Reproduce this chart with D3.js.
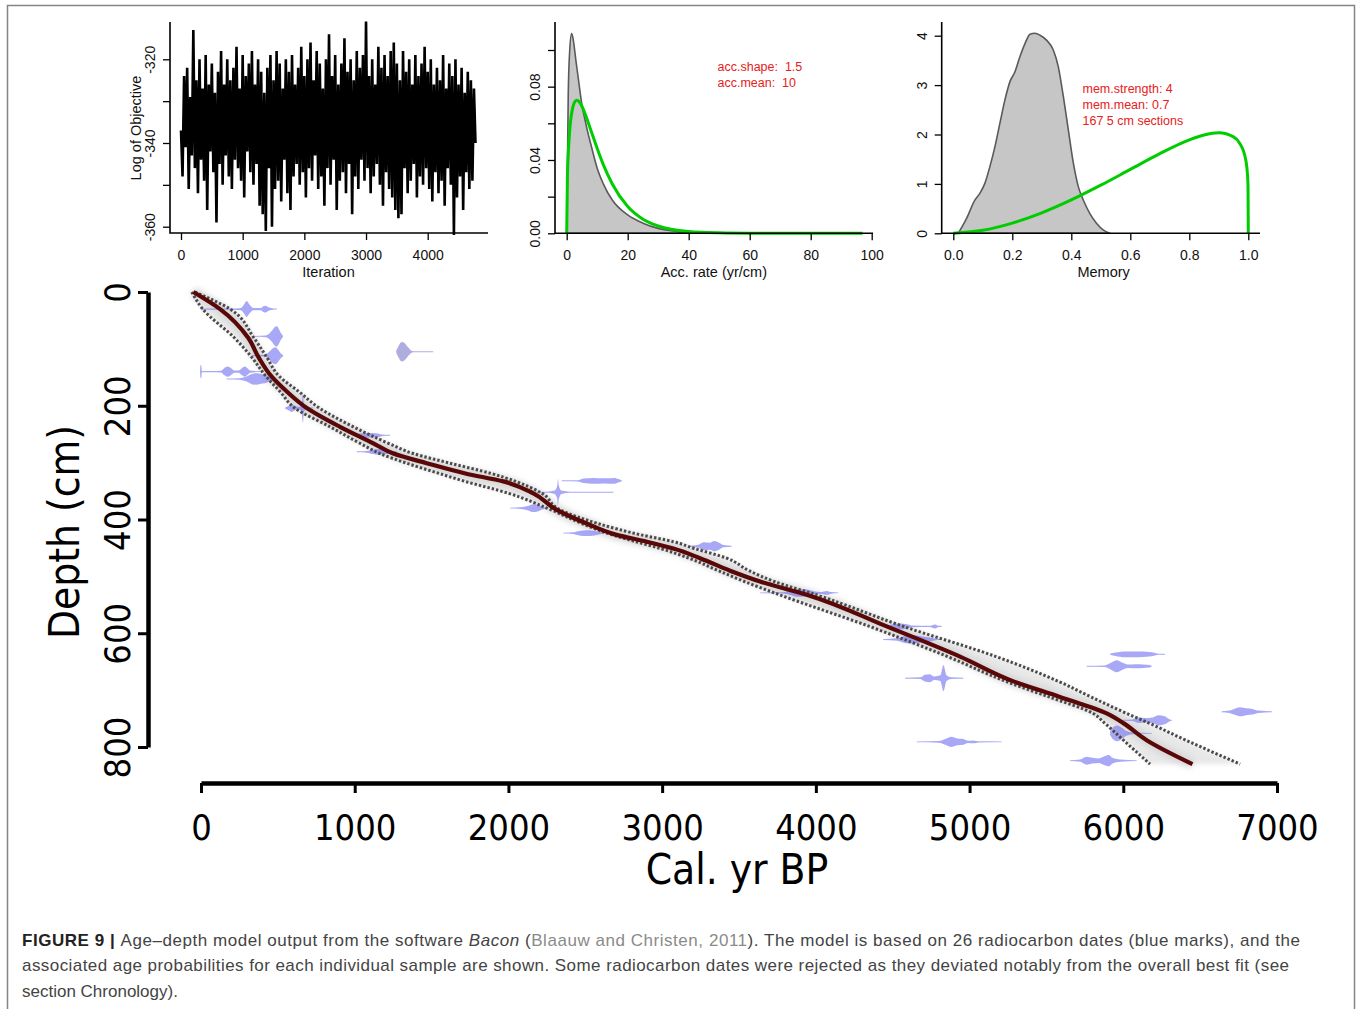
<!DOCTYPE html>
<html>
<head>
<meta charset="utf-8">
<script src="https://cdn.jsdelivr.net/npm/d3@7"></script>
<style>
  body { margin: 0; background: #fff; }
  svg { display: block; }
</style>
</head>
<body>
<svg id="fig" width="1358" height="1009"></svg>
<script>
// ---- datos ----

// traza MCMC (log del objetivo), una muestra cada 25 iteraciones
const traceStep = 25;
const traceValues = [
  -337,-348,-324,-341,-322,-351,-329,-343,-313,-346,-325,-352,-320,-344,-327,-349,-319,-356,-326,-342,
  -321,-347,-328,-359,-323,-345,-318,-350,-326,-343,-320,-348,-325,-351,-322,-344,-317,-346,-327,-349,
  -319,-353,-324,-342,-321,-347,-318,-350,-326,-345,-320,-355,-323,-357,-328,-361,-322,-346,-319,-360,
  -325,-351,-318,-349,-321,-354,-327,-344,-320,-352,-323,-356,-319,-348,-326,-345,-322,-350,-317,-347,
  -324,-353,-320,-346,-316,-349,-325,-343,-318,-351,-321,-348,-327,-355,-320,-346,-314,-350,-324,-344,
  -319,-356,-326,-349,-321,-347,-315,-352,-323,-345,-320,-357,-325,-348,-318,-351,-322,-344,-319,-349,
  -311,-346,-324,-352,-320,-348,-326,-345,-317,-350,-322,-355,-319,-347,-324,-351,-318,-353,-316,-356,
  -321,-358,-325,-357,-318,-346,-323,-352,-320,-349,-326,-345,-319,-353,-324,-348,-321,-350,-317,-346,
  -323,-351,-320,-354,-326,-347,-322,-352,-325,-349,-319,-355,-327,-346,-321,-350,-324,-362,-320,-353,
  -326,-348,-322,-356,-328,-347,-323,-351,-325,-349,-327,-340
];

// tasa de acumulacion: posterior (gris) y prior (verde)
const accRate = [0, 0.5, 1, 1.6, 2, 3, 4, 5, 6, 7, 8, 10, 12, 15, 20, 25, 30, 40, 50, 54];
const accPosterior = [0, 0.075, 0.1, 0.109, 0.107, 0.0945, 0.082, 0.070, 0.062, 0.0545, 0.048, 0.0355, 0.027, 0.018, 0.010, 0.0055, 0.0027, 0.0006, 0.0001, 0];
const accPriorX = [0, 0.25, 0.5, 1, 2, 3, 3.33, 4, 5, 6, 8, 10, 12, 15, 20, 25, 30, 40, 50, 60, 80, 97];
const accPrior = [0, 0.0316, 0.043, 0.0564, 0.0687, 0.0724, 0.0726, 0.072, 0.0693, 0.0653, 0.0558, 0.0463, 0.0375, 0.0268, 0.0146, 0.0077, 0.004, 0.001, 0.00026, 0.00006, 0, 0];

// memoria: posterior (gris) y prior (verde)
const memX = [0.017, 0.045, 0.073, 0.09, 0.107, 0.124, 0.141, 0.158, 0.175, 0.192, 0.209, 0.226, 0.243, 0.26, 0.277, 0.294, 0.316, 0.339, 0.356, 0.373, 0.39, 0.407, 0.424, 0.441, 0.463, 0.486, 0.508, 0.531];
const memPosterior = [0, 0.30, 0.67, 0.81, 1.01, 1.35, 1.75, 2.23, 2.70, 3.07, 3.27, 3.58, 3.84, 4.03, 4.05, 4.01, 3.91, 3.71, 3.37, 2.77, 2.09, 1.42, 0.94, 0.67, 0.40, 0.20, 0.07, 0];
const memPriorX = [0, 0.1, 0.2, 0.3, 0.4, 0.5, 0.6, 0.7, 0.8, 0.85, 0.9, 0.95, 0.97, 0.99, 0.995, 0.999, 1];
const memPrior = [0, 0.06, 0.206, 0.415, 0.676, 0.974, 1.293, 1.612, 1.89, 1.99, 2.034, 1.952, 1.83, 1.523, 1.339, 0.977, 0];

const accText = ["acc.shape:  1.5", "acc.mean:  10"];
const memText = ["mem.strength: 4", "mem.mean: 0.7", "167 5 cm sections"];

// modelo edad-profundidad
const modelDepth = [0, 30, 81, 114, 149, 175, 204, 237, 266, 284, 301, 319, 333, 354, 383, 407, 427, 439, 451, 468, 490, 509, 533, 588, 641, 685, 712, 741, 758, 788, 830];
const ageMin  = [-60, 11, 219, 328, 425, 514, 610, 839, 1034, 1164, 1338, 1549, 1718, 2002, 2277, 2477, 2675, 2828, 2989, 3175, 3366, 3535, 3770, 4349, 4857, 5240, 5517, 5804, 5879, 6001, 6174];
const ageMean = [-50, 124, 308, 373, 460, 558, 688, 904, 1121, 1251, 1468, 1720, 1967, 2162, 2314, 2509, 2704, 2900, 3073, 3246, 3442, 3637, 3950, 4461, 4938, 5290, 5588, 5892, 6000, 6152, 6450];
const ageMax  = [-40, 189, 345, 426, 512, 636, 770, 991, 1219, 1381, 1620, 1887, 2047, 2218, 2336, 2581, 2862, 3073, 3211, 3420, 3565, 3730, 4010, 4570, 5172, 5582, 5790, 6022, 6167, 6407, 6760];

// fechas radiocarbono: profundidad y perfil [edad, media altura en cm]
const dateDepths = [30, 78, 112, 140, 153, 105, 204, 252, 281, 332, 352, 380, 424, 447, 529, 588, 611, 679, 791, 637, 658, 753, 776, 824, 738];
const dateProfiles = [
  [[5,3],[15,1],[200,1],[260,2],[280,8],[297,14],[315,8],[340,2],[390,2],[405,5],[420,6],[440,3],[470,1],[493,0.8]],
  [[351,0.8],[420,1.5],[445,5],[465,11],[482,17],[494,18],[505,14],[520,6],[533,1]],
  [[330,1],[415,1.5],[440,6],[462,12],[485,15],[503,10],[520,4],[535,1]],
  [[-6,1],[-3,11],[2,11],[6,1],[60,1],[130,1.5],[150,6],[175,9],[200,5],[215,2],[245,2],[265,6],[285,9],[305,5],[320,2],[384,0.8]],
  [[167,0.8],[250,1.5],[300,5],[330,9],[360,10],[400,8],[430,6],[450,3],[460,0.8]],
  [[1270,2],[1285,10],[1305,17],[1320,16],[1340,10],[1360,4],[1380,1],[1511,0.8]],
  [[547,0.8],[570,4],[590,7],[610,4],[640,2],[655,6],[663,26],[670,6],[690,1.5],[729,0.8]],
  [[991,0.8],[1030,3],[1070,4],[1110,4],[1150,3],[1175,1.5],[1230,0.8]],
  [[1013,0.8],[1080,1.5],[1120,4],[1160,5],[1200,4],[1240,2],[1273,0.8]],
  [[2347,0.8],[2450,1],[2490,4],[2550,5],[2620,4.5],[2690,5],[2715,3],[2737,0.8]],
  [[2184,0.8],[2250,1],[2300,3],[2318,12],[2322,23],[2328,12],[2345,3],[2400,1],[2683,0.8]],
  [[2010,0.8],[2080,1.5],[2130,4],[2160,7],[2190,6],[2215,3],[2249,0.8]],
  [[2357,0.8],[2420,1.5],[2460,4],[2510,5],[2560,4],[2600,1.5],[2617,0.8]],
  [[3181,0.8],[3230,2],[3270,7],[3310,6],[3340,9],[3370,6],[3400,2],[3452,0.8]],
  [[3637,0.8],[3780,1],[3840,4],[3880,7],[3940,6],[3985,3],[4030,1.5],[4071,3.5],[4100,1.5],[4146,0.8]],
  [[4461,0.8],[4500,4],[4540,5],[4590,4],[4630,1.5],[4740,1],[4775,3.5],[4800,1],[4818,0.8]],
  [[4438,0.8],[4530,2],[4580,6],[4640,7],[4700,5],[4750,3],[4790,1],[4818,0.8]],
  [[4580,0.8],[4680,1.5],[4710,6],[4740,7],[4770,3],[4810,5],[4830,23],[4850,5],[4880,1.5],[4960,0.8]],
  [[4656,0.8],[4800,1.5],[4850,6],[4880,9],[4920,6],[4960,5],[4990,2],[5024,2.5],[5060,1],[5209,0.8]],
  [[5914,0.8],[5950,3],[6000,5],[6050,5],[6100,5],[6150,4.5],[6194,3],[6230,1],[6272,0.8]],
  [[5762,0.8],[5880,1.5],[5920,6],[5957,10.5],[5995,6],[6030,3],[6080,3.5],[6130,3],[6170,2],[6184,0.8]],
  [[6000,0.8],[6060,1.5],[6100,5],[6140,4],[6190,5],[6230,9],[6270,7],[6300,2],[6315,0.8]],
  [[5914,3],[5935,11],[5960,14],[5990,10],[6020,4],[6060,1.5],[6185,0.8]],
  [[5653,0.8],[5720,2],[5760,7],[5800,5],[5840,4],[5880,8],[5905,10],[5930,5],[5980,2],[6087,0.8]],
  [[6640,0.8],[6690,2],[6720,5],[6760,8],[6800,6],[6840,5],[6880,2],[6966,0.8]]
];
const rejectedDates = [5];

const mainXTicks = [0, 1000, 2000, 3000, 4000, 5000, 6000, 7000];
const mainYTicks = [0, 200, 400, 600, 800];

// ---- dibujo ----
const svg = d3.select("#fig");
const fTop = "'Liberation Sans', Arial, sans-serif";
const fMain = "'DejaVu Sans Condensed', 'DejaVu Sans', sans-serif";
const fCap = "'Liberation Sans', Arial, sans-serif";

// marco de la figura
svg.append("rect")
	.attr("x", 7.5).attr("y", 5.5)
	.attr("width", 1347).attr("height", 1012)
	.attr("fill", "none")
	.attr("stroke", "#858585")
	.attr("stroke-width", 1.5);

const defs = svg.append("defs");
defs.append("filter").attr("id", "blur2").attr("x", "-10%").attr("y", "-10%").attr("width", "120%").attr("height", "120%")
	.append("feGaussianBlur").attr("stdDeviation", 2);
defs.append("filter").attr("id", "blur3").attr("x", "-10%").attr("y", "-10%").attr("width", "120%").attr("height", "120%")
	.append("feGaussianBlur").attr("stdDeviation", 3);

function panelAxes(g, x, y, box, xTicks, xFmt, yTicks, yFmt, xTitle) {
	g.append("path")
		.attr("d", `M${box.left},${box.top}V${box.bottom}H${box.right}`)
		.attr("fill", "none").attr("stroke", "#000").attr("stroke-width", 1.6);

	const ax = g.append("g")
		.attr("transform", `translate(0,${box.bottom})`)
		.call(d3.axisBottom(x).tickValues(xTicks).tickFormat(xFmt).tickSize(7).tickSizeOuter(0));
	ax.select(".domain").remove();
	ax.selectAll("line").attr("stroke-width", 1.3);
	ax.selectAll("text")
		.attr("y", 260 - box.bottom).attr("dy", null)
		.attr("font-family", fTop).attr("font-size", 14).attr("fill", "#111");

	const ay = g.append("g")
		.attr("transform", `translate(${box.left},0)`)
		.call(d3.axisLeft(y).tickValues(yTicks).tickFormat(yFmt).tickSize(7).tickSizeOuter(0));
	ay.select(".domain").remove();
	ay.selectAll("line").attr("stroke-width", 1.3);
	ay.selectAll("text")
		.attr("x", 0).attr("dy", null)
		.attr("text-anchor", "middle")
		.attr("transform", "translate(-15,0) rotate(-90)")
		.attr("font-family", fTop).attr("font-size", 14).attr("fill", "#111");

	g.append("text")
		.attr("x", (x.range()[0] + box.right) / 2 + box.titleShift).attr("y", 277)
		.attr("text-anchor", "middle")
		.attr("font-family", fTop).attr("font-size", 14.5).attr("fill", "#111")
		.text(xTitle);
}

// panel 1: traza
const box1 = { left: 170, right: 488, top: 22, bottom: 233, titleShift: -6 };
const x1 = d3.scaleLinear().domain([0, 4000]).range([181, 427.7]);
const y1 = d3.scaleLinear().domain([-360, -320]).range([226.7, 59.3]);
const g1 = svg.append("g");
g1.append("path")
	.datum(traceValues)
	.attr("fill", "none").attr("stroke", "#000").attr("stroke-width", 2.6)
	.attr("stroke-linejoin", "bevel")
	.attr("d", d3.line().x((d, i) => x1(i * traceStep)).y(d => y1(d)));
panelAxes(g1, x1, y1, box1, [0, 1000, 2000, 3000, 4000], d3.format("d"),
	[-360, -350, -340, -330, -320], d => (d % 20 === 0 ? String(d) : ""), "Iteration");
g1.append("text")
	.attr("transform", "translate(141,128) rotate(-90)")
	.attr("text-anchor", "middle")
	.attr("font-family", fTop).attr("font-size", 14.5).attr("fill", "#111")
	.text("Log of Objective");

// panel 2: tasa de acumulacion
const box2 = { left: 555, right: 873, top: 22, bottom: 233.3, titleShift: -6 };
const x2 = d3.scaleLinear().domain([0, 100]).range([566.7, 871.7]);
const y2 = d3.scaleLinear().domain([0, 0.1]).range([233.3, 50]);
const g2 = svg.append("g");
g2.append("path")
	.datum(d3.zip(accRate, accPosterior))
	.attr("fill", "#c6c6c6").attr("stroke", "#5a5a5a").attr("stroke-width", 1.6)
	.attr("d", d3.area().x(d => x2(d[0])).y0(y2(0)).y1(d => y2(d[1])).curve(d3.curveMonotoneX));
g2.append("path")
	.datum(d3.zip(accPriorX, accPrior))
	.attr("fill", "none").attr("stroke", "#00cd00").attr("stroke-width", 3)
	.attr("d", d3.line().x(d => x2(d[0])).y(d => y2(d[1])).curve(d3.curveMonotoneX));
panelAxes(g2, x2, y2, box2, [0, 20, 40, 60, 80, 100], d3.format("d"),
	[0, 0.02, 0.04, 0.06, 0.08, 0.1], (d, i) => (i % 2 === 0 ? d.toFixed(2) : ""), "Acc. rate (yr/cm)");
g2.selectAll("text.info")
	.data(accText).enter().append("text")
	.attr("class", "info")
	.attr("x", 717.5).attr("y", (d, i) => 71 + i * 15.5)
	.attr("font-family", fTop).attr("font-size", 12.5).attr("fill", "#e82020")
	.attr("xml:space", "preserve").style("white-space", "pre")
	.text(d => d);

// panel 3: memoria
const box3 = { left: 941.7, right: 1260, top: 22, bottom: 233.3, titleShift: -3 };
const x3 = d3.scaleLinear().domain([0, 1]).range([953.3, 1248.3]);
const y3 = d3.scaleLinear().domain([0, 4]).range([233.3, 35.7]);
const g3 = svg.append("g");
g3.append("path")
	.datum(d3.zip(memX, memPosterior))
	.attr("fill", "#c6c6c6").attr("stroke", "#5a5a5a").attr("stroke-width", 1.6)
	.attr("d", d3.area().x(d => x3(d[0])).y0(y3(0)).y1(d => y3(d[1])).curve(d3.curveMonotoneX));
g3.append("path")
	.datum(d3.zip(memPriorX, memPrior))
	.attr("fill", "none").attr("stroke", "#00cd00").attr("stroke-width", 3)
	.attr("d", d3.line().x(d => x3(d[0])).y(d => y3(d[1])).curve(d3.curveMonotoneX));
panelAxes(g3, x3, y3, box3, [0, 0.2, 0.4, 0.6, 0.8, 1], d => d.toFixed(1),
	[0, 1, 2, 3, 4], d3.format("d"), "Memory");
g3.selectAll("text.info")
	.data(memText).enter().append("text")
	.attr("class", "info")
	.attr("x", 1082.5).attr("y", (d, i) => 93 + i * 15.8)
	.attr("font-family", fTop).attr("font-size", 12.5).attr("fill", "#e82020")
	.text(d => d);

// panel principal
const xMain = d3.scaleLinear().domain([0, 7000]).range([201, 1277]);
const yMain = d3.scaleLinear().domain([0, 800]).range([292, 747]);
const gm = svg.append("g");
const idx = d3.range(modelDepth.length);

gm.append("path")
	.datum(idx)
	.attr("fill", "#e8e8e8")
	.attr("filter", "url(#blur2)")
	.attr("d", d3.area()
		.y(i => yMain(modelDepth[i]))
		.x0(i => xMain(ageMin[i]))
		.x1(i => xMain(ageMax[i]))
		.curve(d3.curveMonotoneY));

const meanLine = d3.line()
	.x(i => xMain(ageMean[i]))
	.y(i => yMain(modelDepth[i]))
	.curve(d3.curveMonotoneY);

gm.append("path")
	.datum(idx)
	.attr("fill", "none").attr("stroke", "#d6d6d6").attr("stroke-width", 10)
	.attr("filter", "url(#blur3)")
	.attr("d", meanLine);

// fechas
gm.selectAll("path.date")
	.data(dateProfiles).enter().append("path")
	.attr("class", "date")
	.attr("fill", (d, i) => rejectedDates.includes(i) ? "rgb(120,120,200)" : "rgb(110,110,240)")
	.attr("fill-opacity", 0.6)
	.attr("d", (prof, i) => d3.area()
		.x(p => xMain(p[0]))
		.y0(p => yMain(dateDepths[i] - p[1]))
		.y1(p => yMain(dateDepths[i] + p[1]))
		.curve(d3.curveMonotoneX)(prof));

[ageMin, ageMax].forEach(ages => {
	gm.append("path")
		.datum(idx)
		.attr("fill", "none").attr("stroke", "#4a4a4a").attr("stroke-width", 3)
		.attr("stroke-dasharray", "2.4,2")
		.attr("d", d3.line()
			.x(i => xMain(ages[i]))
			.y(i => yMain(modelDepth[i]))
			.curve(d3.curveMonotoneY));
});

gm.append("path")
	.datum(idx)
	.attr("fill", "none").attr("stroke", "#5a0707").attr("stroke-width", 4.2)
	.attr("stroke-linejoin", "round")
	.attr("d", meanLine);

// ejes principales
const axX = svg.append("g")
	.attr("transform", "translate(0,783)")
	.call(d3.axisBottom(xMain).tickValues(mainXTicks).tickFormat(d3.format("d")).tickSize(10).tickSizeOuter(0));
axX.select(".domain").attr("stroke-width", 4.5);
axX.selectAll(".tick line").attr("stroke-width", 3);
axX.selectAll(".tick text")
	.attr("y", 57).attr("dy", null)
	.attr("font-family", fMain).attr("font-size", 36).attr("fill", "#000");

const axY = svg.append("g")
	.attr("transform", "translate(148,0)")
	.call(d3.axisLeft(yMain).tickValues(mainYTicks).tickFormat(d3.format("d")).tickSize(10).tickSizeOuter(0));
axY.select(".domain").attr("stroke-width", 4.5);
axY.selectAll(".tick line").attr("stroke-width", 3);
axY.selectAll(".tick text")
	.attr("x", 0).attr("dy", null)
	.attr("text-anchor", "middle")
	.attr("transform", "translate(-18,0) rotate(-90)")
	.attr("font-family", fMain).attr("font-size", 36).attr("fill", "#000");

svg.append("text")
	.attr("x", 737).attr("y", 884)
	.attr("text-anchor", "middle")
	.attr("font-family", fMain).attr("font-size", 42).attr("fill", "#000")
	.text("Cal. yr BP");
svg.append("text")
	.attr("transform", "translate(79,532) rotate(-90)")
	.attr("text-anchor", "middle")
	.attr("font-family", fMain).attr("font-size", 42).attr("fill", "#000")
	.text("Depth (cm)");

// leyenda de la figura
const cap = svg.append("g").attr("font-family", fCap).attr("font-size", 17).attr("fill", "#444");
const l1 = cap.append("text").attr("x", 22).attr("y", 946).attr("textLength", 1278).attr("lengthAdjust", "spacing");
l1.append("tspan").attr("font-weight", "bold").attr("fill", "#222").text("FIGURE 9 | ");
l1.append("tspan").text("Age–depth model output from the software ");
l1.append("tspan").attr("font-style", "italic").text("Bacon");
l1.append("tspan").text(" (");
l1.append("tspan").attr("fill", "#8a8a8a").text("Blaauw and Christen, 2011");
l1.append("tspan").text("). The model is based on 26 radiocarbon dates (blue marks), and the");
cap.append("text").attr("x", 22).attr("y", 971).attr("textLength", 1267).attr("lengthAdjust", "spacing")
	.text("associated age probabilities for each individual sample are shown. Some radiocarbon dates were rejected as they deviated notably from the overall best fit (see");
cap.append("text").attr("x", 22).attr("y", 997)
	.text("section Chronology).");
</script>
</body>
</html>
